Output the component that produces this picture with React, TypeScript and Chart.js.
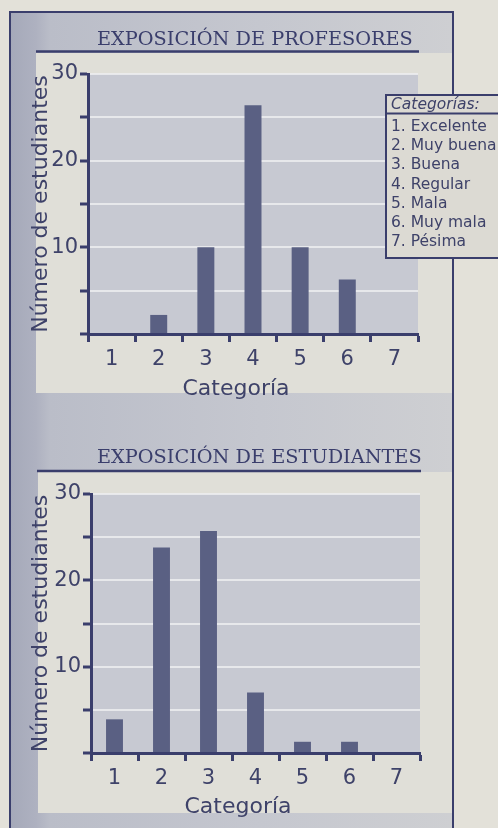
import React, { useEffect, useRef } from 'react';
import { Chart, registerables } from 'chart.js';

Chart.register(...registerables);

// ---------- data ----------
const categories = ['1', '2', '3', '4', '5', '6', '7'];
const profesoresValues = [0, 2.2, 10, 26.4, 10, 6.3, 0];
const estudiantesValues = [3.9, 23.8, 25.7, 7, 1.3, 1.3, 0];
const yLabeledTicks = [10, 20, 30];
const yMin = 0;
const yMax = 30;
const yStep = 5;
const titleProfesores = 'EXPOSICIÓN DE PROFESORES';
const titleEstudiantes = 'EXPOSICIÓN DE ESTUDIANTES';
const xAxisTitle = 'Categoría';
const yAxisTitle = 'Número de estudiantes';
const legendTitle = 'Categorías:';
const legendItems = ['1. Excelente', '2. Muy buena', '3. Buena', '4. Regular', '5. Mala', '6. Muy mala', '7. Pésima'];

// ---------- styles ----------
const NAVY = '#3a3e6c';
const TEXT = '#3e4269';
const BAR = '#5a6083';
const PLOT_BG = '#c7c9d2';
const STRIPE = 'rgba(236,237,240,0.85)';
const PAPER = '#e3e1d9';
const LIGHT = '#e0dfd8';
const SANS = '"DejaVu Sans", sans-serif';
const SERIF = '"DejaVu Serif", serif';

type Spec = {
  W: number; H: number;
  left: number; right: number; top: number; bottom: number;
  title: string; titleX: number; titleBaseline: number;
  ulY: number; ulX1: number; ulX2: number;
  xTitleX: number; xTitleBaseline: number;
  legend: boolean;
};

const decorPlugin = {
  id: 'decor',
  beforeDraw(chart: any) {
    const { ctx, chartArea } = chart;
    ctx.save();
    ctx.fillStyle = PLOT_BG;
    ctx.fillRect(chartArea.left, chartArea.top, chartArea.right - chartArea.left, chartArea.bottom - chartArea.top);
    ctx.restore();
  },
  afterDraw(chart: any, _args: any, opts: any) {
    const s: Spec = opts.spec;
    if (!s) return;
    const ctx = chart.ctx;
    ctx.save();
    // chart title
    ctx.fillStyle = NAVY;
    ctx.font = `19.3px ${SERIF}`;
    ctx.textAlign = 'left';
    ctx.textBaseline = 'alphabetic';
    ctx.fillText(s.title, s.titleX, s.titleBaseline);
    // underline
    ctx.strokeStyle = NAVY;
    ctx.lineWidth = 2.5;
    ctx.beginPath();
    ctx.moveTo(s.ulX1, s.ulY);
    ctx.lineTo(s.ulX2, s.ulY);
    ctx.stroke();
    // x axis title
    ctx.fillStyle = TEXT;
    ctx.font = `22px ${SANS}`;
    ctx.textAlign = 'center';
    ctx.fillText(xAxisTitle, s.xTitleX, s.xTitleBaseline);
    // legend box
    if (s.legend) {
      const bx = 386, by = 95, bw = 130, bh = 163;
      ctx.fillStyle = '#dcdad3';
      ctx.fillRect(bx, by, bw, bh);
      ctx.strokeStyle = NAVY;
      ctx.lineWidth = 2;
      ctx.strokeRect(bx, by, bw, bh);
      ctx.beginPath();
      ctx.moveTo(bx, 113.5);
      ctx.lineTo(bx + bw, 113.5);
      ctx.stroke();
      ctx.fillStyle = TEXT;
      ctx.textAlign = 'left';
      ctx.textBaseline = 'middle';
      ctx.font = `italic 15.5px ${SANS}`;
      ctx.fillText(legendTitle, 391, 104.5);
      ctx.font = `15.5px ${SANS}`;
      legendItems.forEach((t, i) => {
        ctx.fillText(t, 391, 127 + i * 19.2);
      });
    }
    ctx.restore();
  },
};

function buildChart(canvas: HTMLCanvasElement, values: number[], s: Spec) {
  const XH = 60;
  return new Chart(canvas, {
    type: 'bar',
    data: {
      labels: categories,
      datasets: [{
        data: values,
        backgroundColor: BAR,
        borderWidth: 0,
        barPercentage: 0.36,
        categoryPercentage: 1,
      }],
    },
    plugins: [decorPlugin],
    options: {
      responsive: false,
      animation: false,
      devicePixelRatio: 1,
      layout: { padding: { left: 0, right: s.W - s.right, top: s.top, bottom: s.H - s.bottom - XH } },
      plugins: {
        legend: { display: false },
        tooltip: { enabled: false },
        title: { display: false },
        decor: { spec: s },
      } as any,
      scales: {
        x: {
          z: 1,
          grid: { display: true, drawOnChartArea: false, offset: true, tickLength: 8, tickWidth: 3, tickColor: NAVY },
          border: { color: NAVY, width: 3 },
          ticks: { color: TEXT, font: { family: SANS, size: 21 }, padding: 5, maxRotation: 0, autoSkip: false },
          afterFit: (scale: any) => { scale.height = XH; },
        },
        y: {
          min: yMin,
          max: yMax,
          ticks: {
            stepSize: yStep,
            autoSkip: false,
            color: TEXT,
            font: { family: SANS, size: 21 },
            padding: 2,
            callback: (v: any) => (yLabeledTicks.includes(Number(v)) ? String(v) : ''),
          },
          grid: { color: STRIPE, lineWidth: 2, tickLength: 8, tickWidth: 3, tickColor: NAVY, drawOnChartArea: true },
          border: { color: NAVY, width: 3 },
          title: {
            display: true,
            text: yAxisTitle,
            color: TEXT,
            font: { family: SANS, size: 22 },
            padding: { top: 28, bottom: 0 },
          },
          afterFit: (scale: any) => { scale.width = s.left; },
        },
      },
    } as any,
  });
}

const topSpec: Spec = {
  W: 498, H: 400,
  left: 88, right: 418, top: 74, bottom: 334,
  title: titleProfesores, titleX: 97, titleBaseline: 45,
  ulY: 51.5, ulX1: 36, ulX2: 419,
  xTitleX: 236, xTitleBaseline: 395,
  legend: true,
};

const bottomSpec: Spec = {
  W: 498, H: 428,
  left: 91, right: 420, top: 94, bottom: 353,
  title: titleEstudiantes, titleX: 97, titleBaseline: 63,
  ulY: 71, ulX1: 37, ulX2: 421,
  xTitleX: 238, xTitleBaseline: 412.5,
  legend: false,
};

function ChartCanvas({ values, spec, top }: { values: number[]; spec: Spec; top: number }) {
  const ref = useRef<HTMLCanvasElement | null>(null);
  useEffect(() => {
    if (!ref.current) return;
    const chart = buildChart(ref.current, values, spec);
    return () => chart.destroy();
  }, []);
  return (
    <canvas
      ref={ref}
      width={spec.W}
      height={spec.H}
      style={{ position: 'absolute', left: 0, top, width: spec.W, height: spec.H }}
    />
  );
}

export default function App() {
  const abs = (l: number, t: number, w: number, h: number, extra: any = {}) => ({
    position: 'absolute' as const, left: l, top: t, width: w, height: h, ...extra,
  });
  return (
    <div style={{ position: 'fixed', left: 0, top: 0, width: 498, height: 828, overflow: 'hidden', background: PAPER }}>
      {/* gray halftone frame fill */}
      <div style={abs(10, 12, 443, 830, {
        background: 'linear-gradient(to right, #a5a9b9 0px, #aeb1c0 26px, #babdc8 40px, #c5c7cf 250px, #cecfd2 443px)',
      })} />
      {/* light inner areas */}
      <div style={abs(36, 53, 417, 340, { background: LIGHT })} />
      <div style={abs(38, 472, 415, 341, { background: LIGHT })} />
      {/* frame border */}
      <div style={abs(9, 11, 445, 830, { border: `2.5px solid ${NAVY}`, boxSizing: 'border-box' })} />
      <ChartCanvas values={profesoresValues} spec={topSpec} top={0} />
      <ChartCanvas values={estudiantesValues} spec={bottomSpec} top={400} />
    </div>
  );
}
